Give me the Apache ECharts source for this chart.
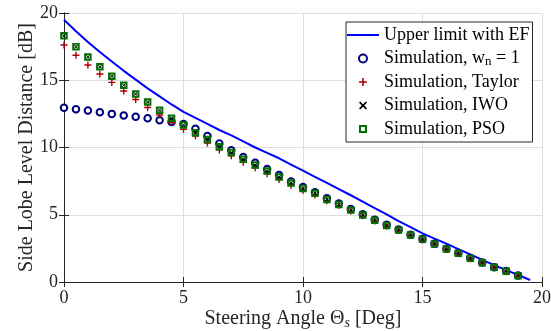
<!DOCTYPE html>
<html lang="en">
<head>
    <meta charset="utf-8"/>
    <title>Side Lobe Level Distance</title>
    <style>
        html, body { margin: 0; padding: 0; background: #fff; }
        #chart { width: 551px; height: 331px; }
    </style>
</head>
<body>
<div id="chart"></div>
<script src="https://cdn.jsdelivr.net/npm/echarts@6/dist/echarts.min.js"></script>
<script>
    // steering angles of the simulated points [deg]
    var angles = [0, 0.5, 1, 1.5, 2, 2.5, 3, 3.5, 4, 4.5, 5, 5.5, 6, 6.5, 7, 7.5, 8, 8.5, 9, 9.5,
        10, 10.5, 11, 11.5, 12, 12.5, 13, 13.5, 14, 14.5, 15, 15.5, 16, 16.5, 17, 17.5, 18, 18.5, 19];
    // angles of the upper limit curve
    var limitAngles = [0, 0.5, 1, 1.5, 2, 2.5, 3, 3.5, 4, 4.5, 5, 5.5, 6, 6.5, 7, 7.5, 8, 8.5, 9, 9.5,
        10, 10.5, 11, 11.5, 12, 12.5, 13, 13.5, 14, 14.5, 15, 15.5, 16, 16.5, 17, 17.5, 18, 18.5, 19, 19.5];

    var upperLimit = [19.5, 18.65, 17.85, 17.1, 16.4, 15.7, 15.05, 14.4, 13.8, 13.2, 12.65, 12.2, 11.75, 11.3, 10.9, 10.45, 10.0, 9.6, 9.2, 8.72,
        8.28, 7.82, 7.37, 6.91, 6.45, 5.98, 5.5, 5.02, 4.52, 4.08, 3.62, 3.22, 2.85, 2.45, 2.05, 1.65, 1.25, 0.88, 0.52, 0.15];
    var uniform = [12.95, 12.85, 12.75, 12.62, 12.5, 12.38, 12.28, 12.17, 12.03, 11.9, 11.74, 11.4, 10.86, 10.3, 9.8, 9.3, 8.87, 8.4, 7.95, 7.48,
        7.07, 6.68, 6.22, 5.84, 5.42, 5.03, 4.63, 4.25, 3.9, 3.52, 3.19, 2.85, 2.47, 2.15, 1.78, 1.45, 1.1, 0.81, 0.48];
    var taylor = [17.62, 16.86, 16.13, 15.46, 14.84, 14.2, 13.57, 12.97, 12.42, 11.85, 11.35, 10.85, 10.33, 9.82, 9.38, 8.9, 8.5, 8.05, 7.62, 7.2,
        6.82, 6.47, 6.04, 5.68, 5.27, 4.92, 4.54, 4.17, 3.84, 3.47, 3.15, 2.82, 2.44, 2.12, 1.75, 1.43, 1.08, 0.79, 0.46];
    var iwo = [18.3, 17.5, 16.73, 16.0, 15.3, 14.63, 13.97, 13.38, 12.77, 12.17, 11.68, 11.1, 10.6, 10.06, 9.62, 9.12, 8.7, 8.25, 7.8, 7.36,
        6.96, 6.59, 6.14, 5.77, 5.35, 4.98, 4.59, 4.21, 3.87, 3.49, 3.17, 2.83, 2.45, 2.13, 1.76, 1.44, 1.09, 0.8, 0.47];
    var pso = [18.3, 17.5, 16.73, 16.0, 15.3, 14.63, 13.97, 13.38, 12.77, 12.17, 11.68, 11.1, 10.6, 10.06, 9.62, 9.12, 8.7, 8.25, 7.8, 7.36,
        6.96, 6.59, 6.14, 5.77, 5.35, 4.98, 4.59, 4.21, 3.87, 3.49, 3.17, 2.83, 2.45, 2.13, 1.76, 1.44, 1.09, 0.8, 0.47];

    var names = ['Upper limit with EF', 'Simulation, w{sub|n} = 1', 'Simulation, Taylor', 'Simulation, IWO', 'Simulation, PSO'];

    var axisColor = '#262626';
    var font = 'Liberation Serif';

    function pairs(xs, ys) {
        var out = [];
        for (var i = 0; i < ys.length; i++) {
            out.push([xs[i], ys[i]]);
        }
        return out;
    }

    var plusPath = 'path://M4,0H6V4H10V6H6V10H4V6H0V4H4Z';
    var crossPath = 'path://M0,1.5L1.5,0L5,3.5L8.5,0L10,1.5L6.5,5L10,8.5L8.5,10L5,6.5L1.5,10L0,8.5L3.5,5Z';
    var squarePath = 'path://M0,0H10V10H0Z M2.6,2.6V7.4H7.4V2.6Z';
    var linePath = 'path://M0,0H32V2H0Z';

    var chart = echarts.init(document.getElementById('chart'));
    var option = {
        animation: false,
        backgroundColor: '#fff',
        textStyle: { fontFamily: font },
        grid: { left: 64, right: 9, top: 13, bottom: 49, outerBoundsMode: 'none' },
        legend: {
            orient: 'vertical',
            left: 346,
            top: 22,
            padding: [3, 3, 3, 1],
            itemWidth: 32,
            itemHeight: 8,
            itemGap: 3.5,
            backgroundColor: '#fff',
            borderColor: axisColor,
            borderWidth: 1,
            borderRadius: 0,
            data: [
                { name: names[0], icon: linePath },
                names[1], names[2], names[3], names[4]
            ],
            textStyle: {
                fontFamily: font,
                fontSize: 18,
                lineHeight: 20,
                color: '#000',
                rich: {
                    sub: { fontFamily: font, fontSize: 13, lineHeight: 6, verticalAlign: 'bottom', color: '#000' }
                }
            }
        },
        xAxis: [{
            type: 'value',
            min: 0, max: 20, interval: 5,
            name: 'Steering Angle Θ{s|s} [Deg]',
            nameLocation: 'middle',
            nameGap: 26,
            nameMoveOverlap: false,
            nameTextStyle: {
                fontFamily: font, fontSize: 20, color: axisColor, lineHeight: 22,
                rich: { s: { fontFamily: font, fontSize: 14, fontStyle: 'italic', lineHeight: 8, verticalAlign: 'bottom', color: axisColor } }
            },
            axisLine: { lineStyle: { color: axisColor, width: 1 } },
            axisTick: { inside: true, length: 5, lineStyle: { color: axisColor } },
            axisLabel: { fontFamily: font, fontSize: 18, color: axisColor, margin: 7 },
            splitLine: { show: true, lineStyle: { color: '#dedede', width: 1 } }
        }, {
            type: 'value', position: 'top',
            min: 0, max: 20, interval: 5,
            axisLine: { show: true, lineStyle: { color: axisColor, width: 1 } },
            axisTick: { show: true, inside: true, length: 5, lineStyle: { color: axisColor } },
            axisLabel: { show: false },
            splitLine: { show: false }
        }],
        yAxis: [{
            type: 'value',
            min: 0, max: 20, interval: 5,
            name: 'Side Lobe Level Distance [dB]',
            nameLocation: 'middle',
            nameGap: 27,
            nameMoveOverlap: false,
            nameTextStyle: { fontFamily: font, fontSize: 20, color: axisColor },
            axisLine: { show: true, lineStyle: { color: axisColor, width: 1 } },
            axisTick: { show: true, inside: true, length: 5, lineStyle: { color: axisColor } },
            axisLabel: { fontFamily: font, fontSize: 18, color: axisColor, margin: 6 },
            splitLine: { show: true, lineStyle: { color: '#dedede', width: 1 } }
        }, {
            type: 'value', position: 'right',
            min: 0, max: 20, interval: 5,
            axisLine: { show: true, lineStyle: { color: axisColor, width: 1 } },
            axisTick: { show: true, inside: true, length: 5, lineStyle: { color: axisColor } },
            axisLabel: { show: false },
            splitLine: { show: false }
        }],
        series: [{
            name: names[0],
            type: 'line',
            symbol: 'none',
            data: pairs(limitAngles, upperLimit),
            lineStyle: { color: '#0000ff', width: 2 },
            itemStyle: { color: '#0000ff' },
            z: 2
        }, {
            name: names[1],
            type: 'scatter',
            symbol: 'emptyCircle',
            symbolSize: 6.5,
            data: pairs(angles, uniform),
            itemStyle: { color: '#00007f', borderWidth: 2, opacity: 1 },
            z: 3
        }, {
            name: names[2],
            type: 'scatter',
            symbol: plusPath,
            symbolSize: 7,
            data: pairs(angles, taylor),
            itemStyle: { color: '#b00000', opacity: 1 },
            z: 4
        }, {
            name: names[3],
            type: 'scatter',
            symbol: crossPath,
            symbolSize: 4,
            data: pairs(angles, iwo),
            itemStyle: { color: '#000', opacity: 1 },
            z: 5
        }, {
            name: names[4],
            type: 'scatter',
            symbol: squarePath,
            symbolSize: 7.5,
            data: pairs(angles, pso),
            itemStyle: { color: '#007000', opacity: 1 },
            z: 6
        }]
    };
    chart.setOption(option, true);
</script>
</body>
</html>
